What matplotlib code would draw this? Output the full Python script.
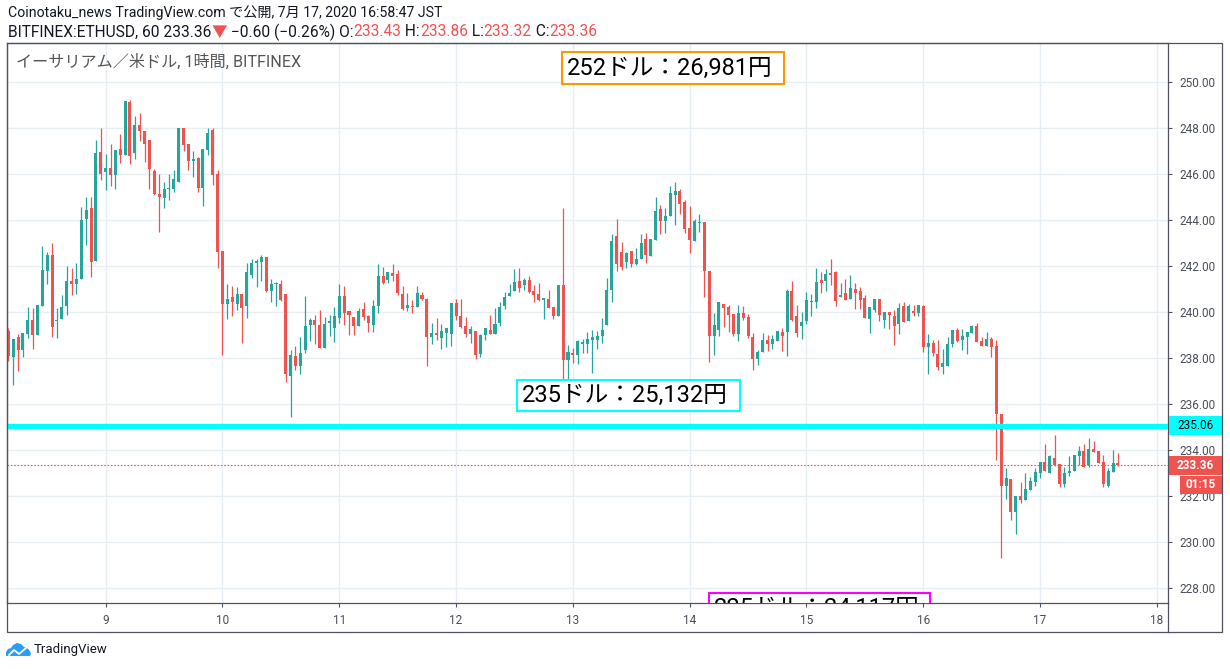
import matplotlib
matplotlib.use('Agg')
import numpy as np
import matplotlib.pyplot as plt
import matplotlib.dates as mdates
import matplotlib.transforms as mtransforms
from matplotlib.patches import Rectangle, Polygon
from matplotlib.lines import Line2D
from matplotlib.ticker import FuncFormatter
from datetime import datetime, timedelta

plt.rcParams['font.family'] = ['Roboto', 'Noto Sans CJK JP', 'DejaVu Sans']

# hourly ETHUSD candles, first one at Jul 8 04:00
start = datetime(2020, 7, 8, 4)
opens = [239.19, 238.03, 238.90, 238.36, 239.06, 239.67, 239.01, 240.28, 241.80, 242.49,
         239.59, 239.71, 240.28, 241.33, 241.20, 241.45, 244.06, 244.54, 242.23, 246.97,
         246.09, 246.26, 245.96, 247.09, 246.83, 249.14, 246.93, 248.14, 247.88, 247.49,
         246.14, 245.14, 244.97, 245.33, 245.36, 245.67, 248.01, 247.32, 246.58, 246.71,
         245.41, 247.04, 247.91, 246.00, 242.67, 240.36, 240.65, 240.36, 240.78, 240.28,
         241.62, 242.13, 242.17, 242.39, 240.91, 241.22, 241.22, 240.78, 237.22, 238.09,
         237.65, 238.35, 239.43, 239.65, 239.43, 238.43, 239.52, 239.30, 239.74, 240.70,
         240.04, 239.78, 239.39, 240.13, 239.83, 239.43, 240.26, 241.57, 241.39, 241.70,
         241.65, 240.78, 240.17, 240.28, 240.22, 240.74, 240.57, 238.91, 239.09, 238.87,
         239.09, 239.04, 240.39, 239.83, 239.39, 239.04, 239.17, 238.17, 239.00, 239.22,
         239.04, 239.52, 240.26, 240.70, 240.91, 241.35, 241.17, 241.39, 240.91, 240.78,
         240.54, 240.57, 240.22, 239.83, 241.17, 237.91, 238.22, 238.13, 238.61, 238.61,
         238.78, 238.78, 238.96, 239.43, 240.96, 243.30, 242.61, 242.17, 242.65, 242.09,
         242.30, 243.17, 242.43, 243.13, 244.48, 243.96, 244.17, 245.09, 245.26, 244.78,
         243.65, 243.09, 243.88, 243.91, 241.78, 238.96, 239.22, 240.35, 240.22, 239.91,
         239.04, 239.96, 239.78, 238.91, 237.96, 238.26, 238.78, 238.61, 238.74, 239.13,
         239.13, 240.91, 239.83, 239.39, 239.61, 240.45, 240.43, 241.39, 241.35, 241.70,
         241.74, 240.65, 240.83, 240.57, 241.00, 240.91, 240.61, 239.70, 240.09, 240.57,
         239.65, 240.00, 239.83, 239.48, 240.26, 239.61, 240.04, 239.96, 240.26, 238.48,
         238.65, 238.17, 237.61, 237.65, 238.61, 239.22, 238.80, 238.93, 239.10, 239.41,
         238.75, 238.54, 238.84, 238.54, 235.58, 232.45, 232.75, 231.32, 232.01, 231.84,
         232.28, 232.62, 233.01, 233.49, 233.01, 233.67, 233.41, 232.54, 233.01, 233.10,
         233.75, 233.97, 233.36, 234.06, 233.97, 233.49, 232.45, 233.06, 233.43]
highs = [239.30, 238.84, 239.06, 239.10, 240.23, 240.19, 240.32, 242.88, 242.62, 243.01,
         240.19, 240.75, 242.01, 241.93, 242.14, 244.58, 245.01, 245.01, 247.49, 248.01,
         246.88, 247.30, 247.04, 247.75, 249.19, 249.23, 248.54, 248.67, 247.88, 247.49,
         246.23, 246.01, 245.67, 245.99, 246.19, 248.01, 248.01, 247.32, 247.01, 246.75,
         247.09, 248.01, 248.01, 246.19, 242.67, 241.23, 241.13, 241.09, 240.78, 242.13,
         242.30, 242.30, 242.48, 242.39, 241.43, 241.29, 241.39, 240.78, 238.35, 238.52,
         238.91, 240.70, 239.74, 239.87, 240.09, 239.78, 239.87, 240.22, 241.22, 241.13,
         240.04, 239.78, 240.17, 240.43, 239.87, 240.52, 242.09, 241.96, 241.74, 242.09,
         241.83, 241.13, 240.83, 240.52, 241.13, 240.87, 240.61, 239.52, 239.74, 239.48,
         239.30, 240.39, 240.57, 240.57, 239.78, 239.39, 239.17, 239.04, 239.30, 239.87,
         240.17, 240.43, 240.87, 241.22, 241.87, 241.91, 241.48, 241.57, 241.17, 241.26,
         240.57, 240.96, 240.22, 241.17, 244.52, 238.57, 238.43, 238.78, 238.83, 239.13,
         239.22, 239.17, 239.74, 241.48, 243.39, 244.04, 243.04, 242.61, 242.65, 242.78,
         243.39, 243.43, 243.17, 245.00, 244.65, 244.52, 245.48, 245.65, 245.35, 244.87,
         244.61, 244.04, 244.26, 243.91, 241.78, 239.96, 240.43, 240.35, 240.30, 239.91,
         240.30, 240.26, 239.91, 239.09, 238.35, 239.09, 239.00, 239.00, 239.17, 239.30,
         241.00, 241.35, 240.30, 240.00, 240.87, 240.78, 241.91, 241.74, 241.87, 242.30,
         241.78, 241.26, 241.43, 241.61, 241.26, 241.09, 240.74, 240.22, 240.57, 240.57,
         240.00, 240.00, 240.09, 240.39, 240.43, 240.35, 240.30, 240.30, 240.30, 239.04,
         238.78, 238.78, 238.39, 238.91, 239.22, 239.30, 239.28, 239.14, 239.45, 239.54,
         238.93, 239.14, 238.93, 238.80, 235.58, 233.23, 232.75, 232.01, 232.62, 233.01,
         232.84, 233.23, 233.49, 234.28, 233.80, 234.67, 233.41, 233.28, 233.75, 233.80,
         234.19, 234.28, 234.54, 234.41, 233.97, 233.80, 233.23, 234.01, 233.86]
lows = [237.86, 236.81, 237.42, 238.03, 238.86, 238.41, 239.01, 240.28, 241.23, 238.93,
        238.88, 239.71, 239.88, 240.75, 240.80, 241.45, 242.93, 241.54, 242.23, 245.75,
        245.32, 245.48, 245.35, 246.49, 246.83, 246.45, 246.67, 247.42, 246.54, 245.35,
        245.10, 243.49, 244.52, 244.88, 245.23, 245.67, 247.01, 246.19, 245.88, 245.23,
        244.62, 246.83, 245.54, 241.93, 238.14, 239.71, 239.84, 240.10, 238.67, 239.75,
        241.49, 241.10, 241.35, 240.86, 240.43, 240.26, 240.48, 236.96, 235.45, 237.48,
        237.30, 238.22, 238.74, 238.61, 238.43, 238.43, 238.96, 238.70, 239.52, 239.43,
        239.00, 239.00, 239.39, 239.65, 239.13, 239.13, 239.96, 241.22, 241.26, 241.35,
        240.74, 240.09, 240.04, 239.97, 240.22, 240.52, 237.65, 238.61, 238.78, 238.39,
        238.48, 238.52, 239.65, 239.30, 238.91, 238.65, 237.96, 238.04, 238.78, 239.04,
        239.04, 239.39, 240.13, 240.70, 240.91, 240.87, 240.96, 240.83, 240.43, 240.48,
        239.70, 240.17, 239.70, 239.83, 237.04, 237.04, 237.78, 237.74, 238.22, 238.22,
        237.35, 238.39, 238.65, 239.43, 240.43, 241.78, 241.83, 241.91, 241.96, 242.04,
        242.30, 242.13, 242.43, 243.13, 243.39, 243.43, 244.17, 243.78, 244.26, 243.43,
        242.57, 243.09, 243.48, 240.65, 237.83, 238.13, 238.96, 239.35, 239.13, 238.96,
        238.74, 239.65, 238.87, 237.48, 237.70, 238.26, 238.30, 238.39, 238.74, 238.30,
        238.09, 239.61, 238.91, 238.83, 239.48, 239.83, 240.17, 240.83, 240.91, 241.17,
        240.26, 240.65, 240.52, 240.57, 240.13, 240.13, 239.74, 239.09, 240.00, 239.61,
        239.30, 239.26, 238.57, 239.04, 239.57, 239.61, 239.83, 239.83, 238.26, 237.30,
        238.09, 237.48, 237.30, 237.65, 238.48, 238.70, 238.36, 238.19, 239.10, 238.71,
        238.54, 238.54, 238.06, 233.58, 229.32, 231.88, 230.97, 230.36, 231.71, 231.84,
        232.28, 232.45, 232.80, 233.10, 233.01, 233.32, 232.41, 232.41, 232.88, 233.10,
        233.36, 233.28, 233.28, 233.93, 233.45, 232.41, 232.41, 233.06, 233.32]
closes = [238.07, 238.84, 238.33, 239.10, 239.67, 239.01, 240.32, 241.84, 242.49, 239.36,
          239.67, 240.23, 241.36, 241.20, 241.45, 244.01, 244.45, 242.19, 246.93, 246.01,
          246.26, 245.96, 247.04, 246.83, 249.19, 246.80, 248.14, 247.86, 247.32, 246.23,
          245.14, 245.01, 245.36, 245.36, 245.80, 248.01, 247.28, 246.58, 246.67, 245.41,
          247.09, 247.78, 245.96, 242.62, 240.36, 240.58, 240.45, 240.78, 240.19, 241.74,
          242.13, 242.22, 242.39, 240.90, 241.22, 241.25, 240.52, 237.30, 238.13, 237.65,
          238.22, 239.39, 239.65, 239.43, 238.43, 239.48, 239.61, 239.83, 240.70, 239.96,
          239.87, 239.39, 240.04, 239.78, 239.52, 240.26, 241.57, 241.26, 241.74, 241.57,
          240.83, 240.13, 240.30, 240.23, 240.83, 240.57, 238.91, 239.09, 239.00, 239.17,
          239.30, 240.39, 239.83, 239.35, 239.04, 239.26, 238.13, 239.00, 239.30, 239.04,
          239.48, 240.22, 240.65, 240.83, 241.30, 241.04, 241.39, 240.87, 240.74, 240.52,
          240.57, 240.17, 239.83, 241.17, 237.91, 238.26, 238.13, 238.74, 238.70, 238.83,
          238.91, 238.96, 239.22, 240.96, 243.09, 242.09, 241.96, 242.57, 242.09, 242.30,
          243.00, 242.48, 243.17, 244.39, 243.96, 244.17, 245.17, 245.26, 244.70, 243.61,
          243.13, 243.96, 243.91, 241.78, 238.96, 239.43, 240.43, 240.17, 239.87, 239.04,
          239.96, 239.74, 238.96, 237.96, 238.26, 238.78, 238.61, 238.83, 239.17, 238.96,
          240.91, 239.65, 239.09, 239.57, 240.52, 240.48, 241.30, 241.26, 241.65, 241.61,
          240.48, 240.74, 240.52, 241.04, 240.83, 240.52, 239.74, 240.22, 240.57, 239.87,
          240.00, 239.87, 239.39, 240.17, 239.57, 240.26, 239.96, 240.30, 238.48, 238.65,
          238.22, 237.61, 237.78, 238.61, 239.22, 238.74, 238.97, 239.14, 239.41, 238.71,
          238.54, 238.84, 238.49, 235.58, 232.45, 232.80, 231.32, 232.01, 231.84, 232.32,
          232.67, 233.06, 233.49, 233.10, 233.75, 233.36, 232.54, 233.01, 233.10, 233.80,
          233.97, 233.28, 234.06, 233.93, 233.45, 232.54, 233.10, 233.45, 233.36]

level_price = 235.06
change, change_pct = -0.60, -0.26
countdown = '01:15'

# drawn note boxes: (text, edge colour, first hour, last hour, centre price)
note_texts = ['252ドル：26,981円', '235ドル：25,132円', '225ドル：24,117円']
note_colors = ['#FF9800', '#00FFFF', '#FF00FF']
note_h0 = [113.8, 104.5, 143.9]
note_h1 = [159.4, 150.3, 189.4]
note_mid = [250.61, 236.37, 227.09]

UP, DOWN = '#26A69A', '#EF5350'
GRID = '#E6EEF4'
FRAME = '#50535E'

o = np.array(opens); h = np.array(highs); l = np.array(lows); c = np.array(closes)
times = [start + timedelta(hours=i) for i in range(len(o))]
xs = mdates.date2num(times)
hr = 1 / 24

W, H = 1230, 669
fig = plt.figure(figsize=(W / 100, H / 100), dpi=100)
ax = fig.add_axes([7 / W, 1 - 603 / H, (1168 - 7) / W, (603 - 43) / H])

cols = np.where(c >= o, UP, DOWN)
ax.vlines(xs, l, h, colors=cols, lw=0.9, zorder=3)
ax.bar(xs, np.maximum(np.abs(c - o), 0.05), bottom=np.minimum(o, c), width=0.62 * hr,
       color=cols, linewidth=0, zorder=4)

ax.set_xlim(xs[0] - 0.27 * hr, xs[0] + 238.28 * hr)
ax.set_ylim(227.348, 251.696)
ax.set_yticks(np.arange(228, 251, 2))
ax.yaxis.set_major_formatter(FuncFormatter(lambda v, p: f'{v:.2f}'))
ax.xaxis.set_major_locator(mdates.DayLocator())
ax.xaxis.set_major_formatter(FuncFormatter(lambda v, p: str(mdates.num2date(v).day)))
ax.yaxis.tick_right()
ax.grid(True, color=GRID, lw=1, zorder=0)
ax.set_axisbelow(True)
ax.tick_params(axis='both', colors=FRAME, labelcolor='#4A4E5A', labelsize=8.5, length=3)
ax.tick_params(axis='y', pad=5)
ax.tick_params(axis='x', pad=5)
for s in ax.spines.values():
    s.set_color(FRAME)
    s.set_linewidth(0.9)

# horizontal level and last price line
ax.axhline(level_price, color='#00FFFF', lw=3.8, zorder=5)
ax.axhline(c[-1], color=DOWN, lw=0.8, ls=(0, (1.5, 1.5)), zorder=2)

for txt, col, t0, t1, ym in zip(note_texts, note_colors, note_h0, note_h1, note_mid):
    ax.add_patch(Rectangle((xs[0] + t0 * hr, ym - 0.69), (t1 - t0) * hr, 1.38,
                           fc='white', ec=col, lw=1.5, zorder=6))
    ax.text(xs[0] + (t0 + 1.0) * hr, ym, txt, fontsize=17, va='center', ha='left',
            color='black', zorder=7, clip_on=True)

# price scale labels
bt = mtransforms.blended_transform_factory(fig.transFigure, ax.transData)
ax.add_patch(Rectangle((1169 / W, level_price - 0.41), 53 / W, 0.83, transform=bt,
                       fc='#00FFFF', ec='none', clip_on=False, zorder=10))
ax.text(1195.5 / W, level_price, f'{level_price:.2f}', transform=bt, ha='center', va='center',
        fontsize=8.5, color='black', clip_on=False, zorder=11)
ax.add_patch(Rectangle((1169 / W, c[-1] - 0.43), 53 / W, 0.83, transform=bt,
                       fc=DOWN, ec='none', clip_on=False, zorder=10))
ax.text(1195.5 / W, c[-1] - 0.02, f'{c[-1]:.2f}', transform=bt, ha='center', va='center',
        fontsize=8.5, color='white', fontweight='bold', clip_on=False, zorder=11)
ax.add_patch(Rectangle((1180 / W, c[-1] - 1.27), 42 / W, 0.80, transform=bt,
                       fc=DOWN, ec='none', clip_on=False, zorder=10))
ax.text(1201 / W, c[-1] - 0.87, countdown, transform=bt, ha='center', va='center',
        fontsize=8.5, color='white', fontweight='bold', clip_on=False, zorder=11)

# outer frame of the chart widget
fig.add_artist(Rectangle((7 / W, 1 - 632 / H), (1222 - 7) / W, (632 - 43) / H,
                         transform=fig.transFigure, fill=False, ec=FRAME, lw=0.9))
fig.add_artist(Line2D([1168 / W, 1168 / W], [1 - 632 / H, 1 - 603 / H],
                      transform=fig.transFigure, color=FRAME, lw=0.9))

fig.text(16 / W, 1 - 62 / H, 'イーサリアム／米ドル, 1時間, BITFINEX', fontsize=11.6,
         color='#555555', va='center')

# header
DARK = '#131722'
fig.text(8 / W, 1 - 13 / H, 'Coinotaku_news TradingView.com で公開, 7月 17, 2020 16:58:47 JST',
         fontsize=10.2, color=DARK, va='center')
pieces = [(f'BITFINEX:ETHUSD, 60 {c[-1]:.2f}', DARK), ('▼', DOWN),
          (f' −{abs(change):.2f} (−{abs(change_pct):.2f}%) O:', DARK), (f'{o[-1]:.2f}', DOWN),
          (' H:', DARK), (f'{h[-1]:.2f}', DOWN), (' L:', DARK), (f'{l[-1]:.2f}', DOWN),
          (' C:', DARK), (f'{c[-1]:.2f}', DOWN)]
rend = fig.canvas.get_renderer()
xpos = 8 / W
for s, col in pieces:
    t = fig.text(xpos, 1 - 32 / H, s, fontsize=11.2, color=col, va='center')
    xpos += t.get_window_extent(rend).width / W

# TradingView logo: blue cloud with a white zigzag
cloud = [(6, 656), (6, 652), (8, 649), (11, 648), (13, 645), (17, 643), (21, 644), (24, 647),
         (27, 648), (30, 651), (31, 654), (30, 656)]
fig.add_artist(Polygon([(px / W, 1 - py / H) for px, py in cloud], closed=True,
                       transform=fig.transFigure, fc='#2A9DF4', ec='none'))
zig = [(9, 655), (14, 650), (19, 654), (26, 648)]
fig.add_artist(Line2D([px / W for px, py in zig], [1 - py / H for px, py in zig],
                      transform=fig.transFigure, color='white', lw=1.3))
fig.text(34 / W, 1 - 650 / H, 'TradingView', fontsize=9.5, color=DARK, va='center')

fig.savefig('out.png', dpi=100)
